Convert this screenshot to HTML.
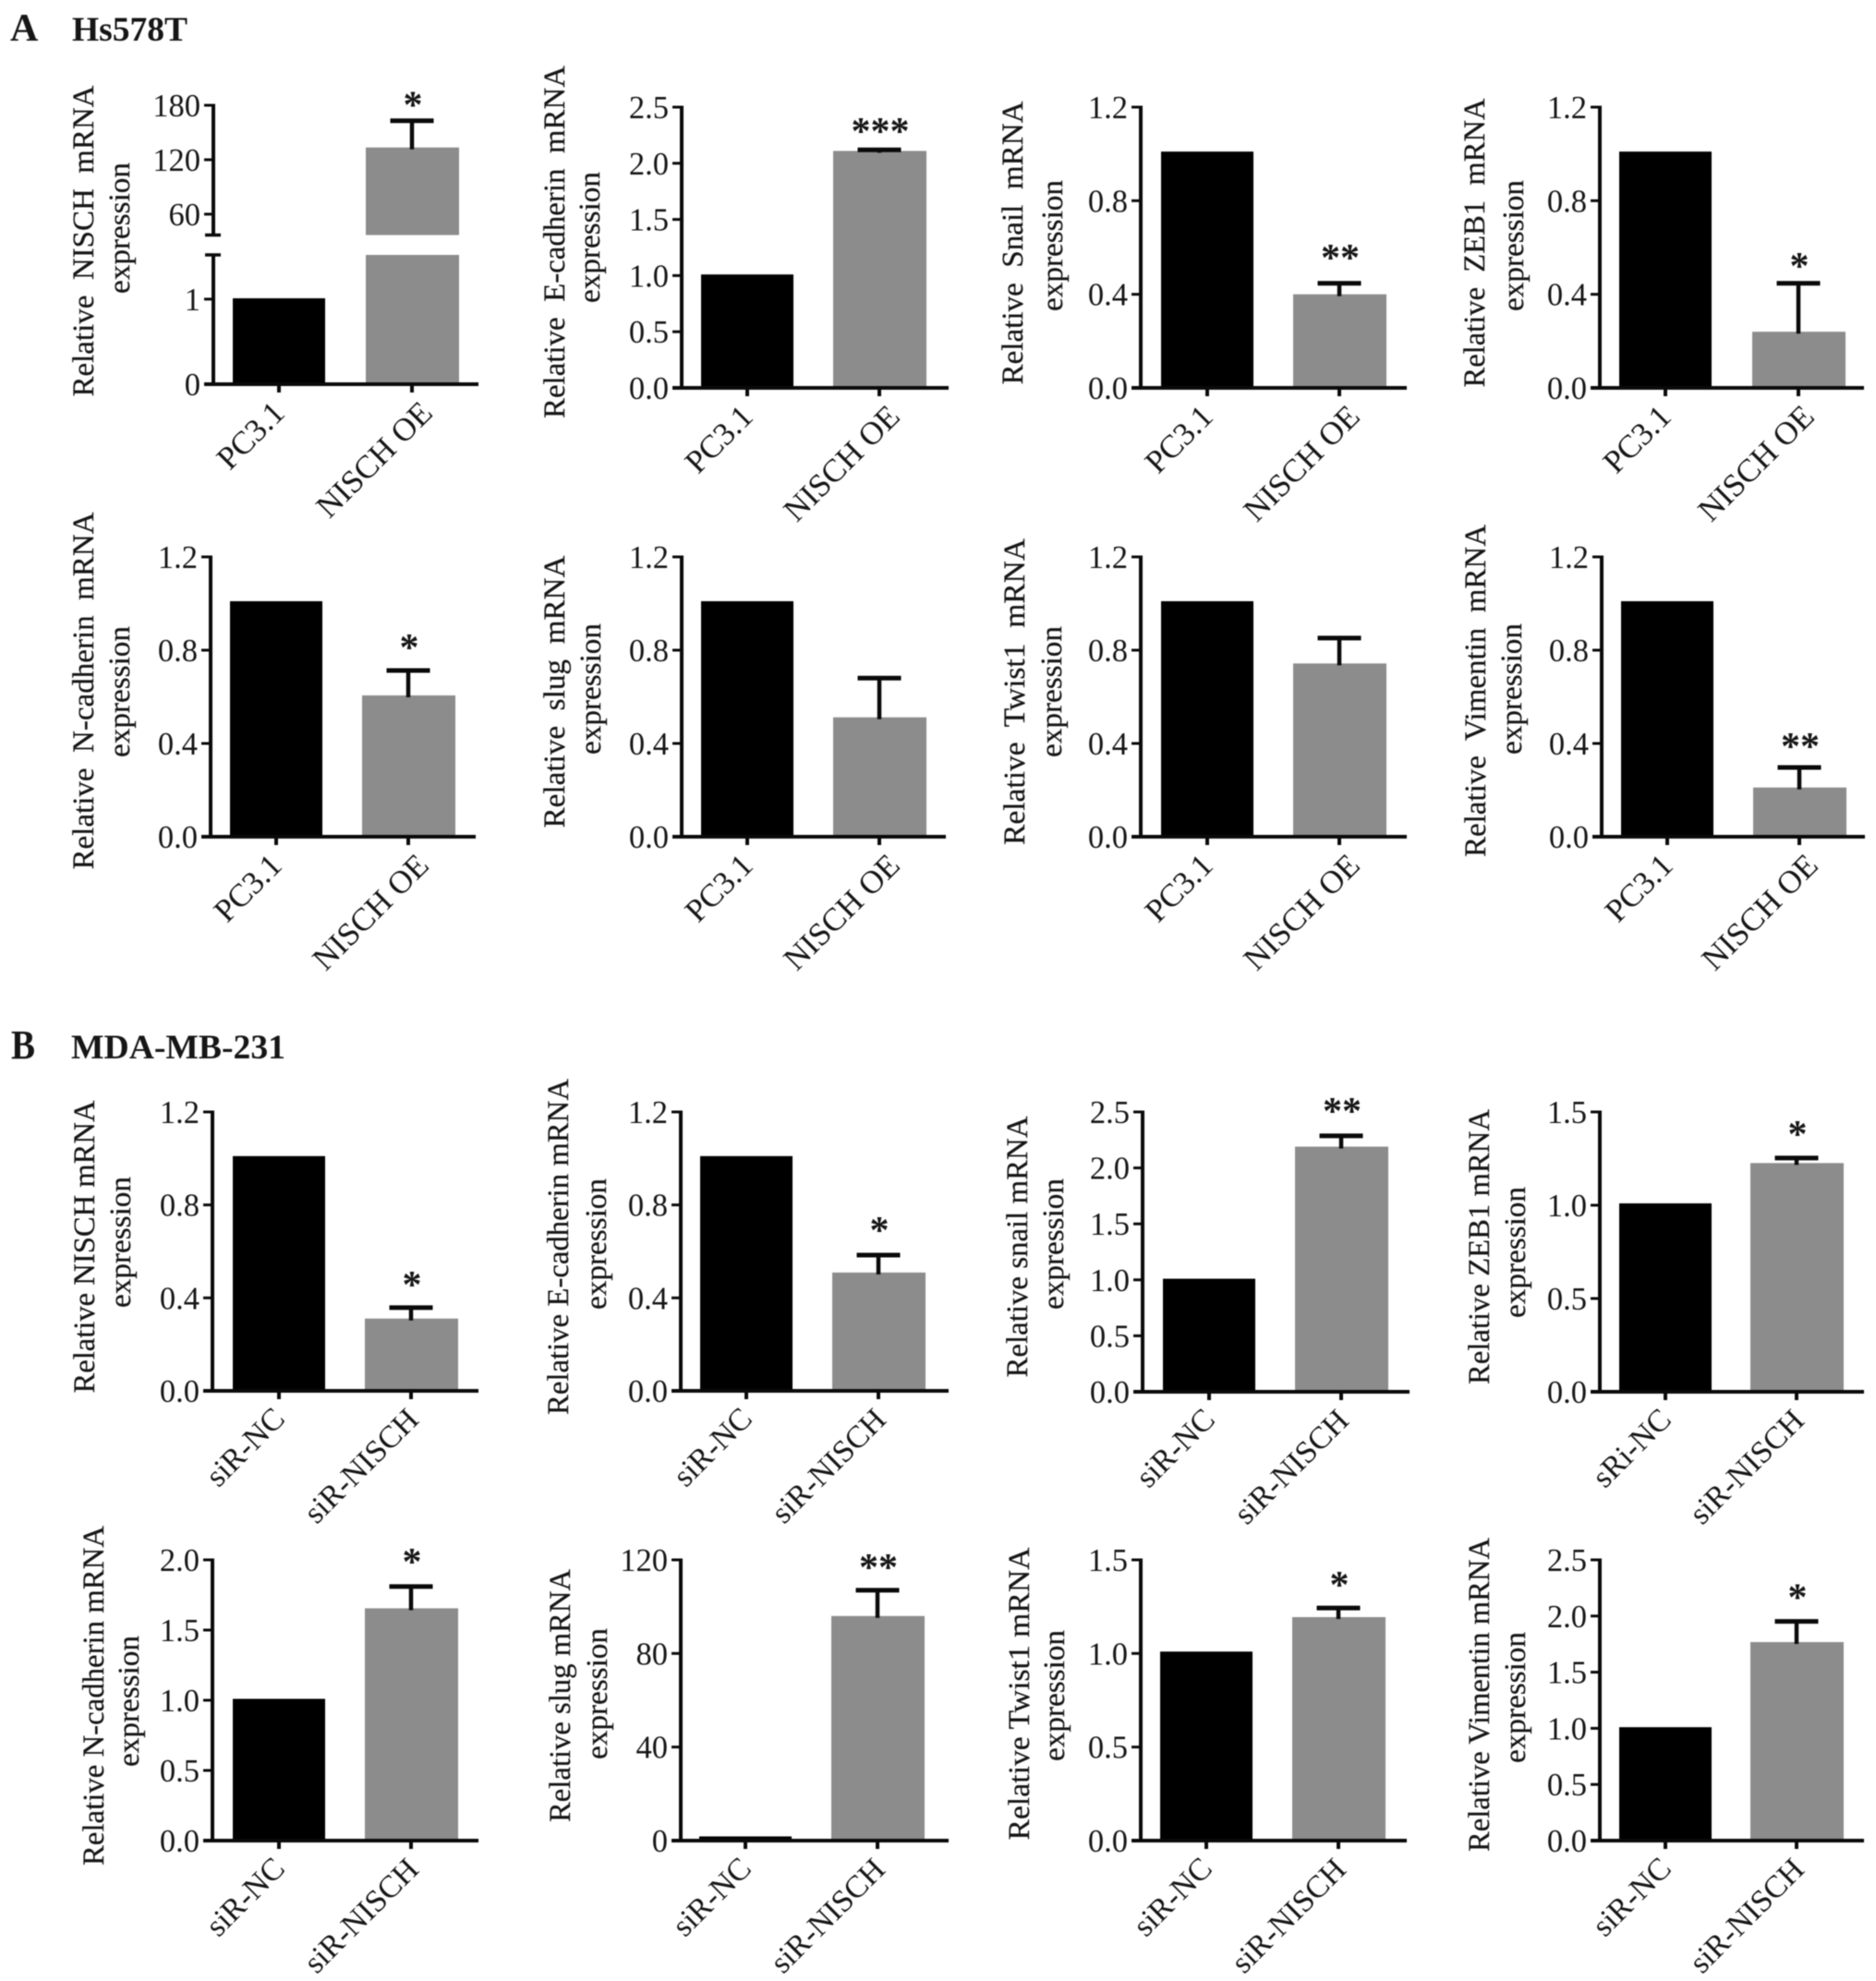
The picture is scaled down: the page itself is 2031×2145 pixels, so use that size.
<!DOCTYPE html>
<html lang="en">
<head>
<meta charset="utf-8">
<title>NISCH mRNA expression panels</title>
<style>
html,body{margin:0;padding:0;background:#fff;}
#figure{display:block;width:2031px;height:2145px;filter:blur(0.5px);}
text{font-family:"Liberation Serif",serif;fill:#161616;white-space:pre;}
.tick-label{font-size:34.5px;}
.axis-label{font-size:33px;stroke:#161616;stroke-width:0.25px;}
.cat-label{font-size:35px;}
.cat-label-b{font-size:34px;}
.heading{font-size:37.5px;font-weight:bold;}
.star{font-size:42px;font-weight:bold;}
</style>
</head>
<body>
<svg id="figure" xmlns="http://www.w3.org/2000/svg" width="2031" height="2145" viewBox="0 0 2031 2145">
  <rect x="0" y="0" width="2031" height="2145" fill="#ffffff"/>
  <text class="heading" x="11" y="44" style="font-size:42px">A</text>
  <text class="heading" x="78" y="44">Hs578T</text>
  <text class="heading" x="12" y="1146" style="font-size:44px" textLength="26" lengthAdjust="spacingAndGlyphs">B</text>
  <text class="heading" x="77" y="1146" textLength="232" lengthAdjust="spacingAndGlyphs">MDA-MB-231</text>
</svg>
<script>
// ---- chart data ----
const geneNames = ['nisch','e-cadherin','snail','zeb1','n-cadherin','slug','twist1','vimentin',
                   'nisch','e-cadherin','snail','zeb1','n-cadherin','slug','twist1','vimentin'];
const yTitles = ['Relative  NISCH  mRNA','Relative  E-cadherin  mRNA','Relative  Snail  mRNA','Relative  ZEB1  mRNA',
                 'Relative  N-cadherin  mRNA','Relative  slug  mRNA','Relative  Twist1  mRNA','Relative  Vimentin  mRNA',
                 'Relative NISCH mRNA','Relative E-cadherin mRNA','Relative snail mRNA','Relative ZEB1 mRNA',
                 'Relative N-cadherin mRNA','Relative slug mRNA','Relative Twist1 mRNA','Relative Vimentin mRNA'];
const yTitleSecond = 'expression';
const controlLabels = ['PC3.1','PC3.1','PC3.1','PC3.1','PC3.1','PC3.1','PC3.1','PC3.1',
                       'siR-NC','siR-NC','siR-NC','sRi-NC','siR-NC','siR-NC','siR-NC','siR-NC'];
const treatedLabels = ['NISCH OE','NISCH OE','NISCH OE','NISCH OE','NISCH OE','NISCH OE','NISCH OE','NISCH OE',
                       'siR-NISCH','siR-NISCH','siR-NISCH','siR-NISCH','siR-NISCH','siR-NISCH','siR-NISCH','siR-NISCH'];
const controlValues = [1.01,1.01,1.01,1.01,1.01,1.01,1.01,1.01,1.01,1.01,1.01,1.01,1.01,1.8,1.01,1.01];
const treatedValues = [133.5,2.11,0.40,0.24,0.606,0.512,0.743,0.211,0.311,0.509,2.19,1.226,1.655,96,1.194,1.768];
const errorValues = [29.5,0.01,0.047,0.207,0.107,0.168,0.109,0.086,0.047,0.075,0.096,0.027,0.155,11,0.049,0.184];
const significance = ['*','***','**','*','*','','','**','*','*','**','*','*','**','*','*'];
const tickLabels = [
  ['0','1','60','120','180'],
  ['0.0','0.5','1.0','1.5','2.0','2.5'],
  ['0.0','0.4','0.8','1.2'],
  ['0.0','0.4','0.8','1.2'],
  ['0.0','0.4','0.8','1.2'],
  ['0.0','0.4','0.8','1.2'],
  ['0.0','0.4','0.8','1.2'],
  ['0.0','0.4','0.8','1.2'],
  ['0.0','0.4','0.8','1.2'],
  ['0.0','0.4','0.8','1.2'],
  ['0.0','0.5','1.0','1.5','2.0','2.5'],
  ['0.0','0.5','1.0','1.5'],
  ['0.0','0.5','1.0','1.5','2.0'],
  ['0','40','80','120'],
  ['0.0','0.5','1.0','1.5'],
  ['0.0','0.5','1.0','1.5','2.0','2.5']
];
// broken y axis of the first panel: lower part 0..1.52, upper part 37..180
const brokenLowerMax = 1.52;
const brokenUpperMin = 37;

// ---- panel layout (pixel frames, not data) ----
const frames = [
 {x:231,end:518,t0:302,t1:446,top:114,base:416,lx:90,ly:261,ll:337,ex:134,ey:247,starGap:23,breakHi:254.5,breakLo:276},
 {x:738,end:1027,t0:809,t1:952,top:116,base:420,lx:600,ly:262,ll:382,ex:643,ey:257,starGap:26},
 {x:1235,end:1523,t0:1307,t1:1450,top:116,base:420,lx:1096,ly:263,ll:307,ex:1144,ey:266,starGap:34},
 {x:1732,end:2018,t0:1803,t1:1947,top:116,base:420,lx:1596,ly:263,ll:313,ex:1643,ey:266,starGap:25,catDx:-5},
 {x:228,end:515,t0:299,t1:442,top:603,base:906,lx:90,ly:748,ll:387,ex:134,ey:749,starGap:31},
 {x:738,end:1024,t0:809,t1:952,top:603,base:906,lx:600,ly:749,ll:295,ex:644,ey:746,starGap:31},
 {x:1235,end:1523,t0:1307,t1:1450,top:603,base:906,lx:1098,ly:749,ll:332,ex:1143,ey:749,starGap:31},
 {x:1734,end:2019,t0:1805,t1:1948,top:603,base:906,lx:1597,ly:748,ll:360,ex:1641,ey:746,starGap:29,catDx:-2},
 {x:230,end:518,t0:302,t1:445,top:1204,base:1506,lx:91,ly:1350,ll:317,ex:135,ey:1345,starGap:31},
 {x:737,end:1027,t0:808,t1:951,top:1204,base:1506,lx:604,ly:1350,ll:364,ex:650,ey:1347,starGap:33},
 {x:1237,end:1526,t0:1309,t1:1452,top:1204,base:1507,lx:1101,ly:1350,ll:283,ex:1145,ey:1347,starGap:33},
 {x:1732,end:2018,t0:1803,t1:1945,top:1204,base:1507,lx:1601,ly:1350,ll:298,ex:1645,ey:1356,starGap:32},
 {x:230,end:518,t0:302,t1:445,top:1689,base:1993,lx:101,ly:1836,ll:368,ex:144,ey:1842,starGap:33},
 {x:737,end:1027,t0:807,t1:950,top:1689,base:1993,lx:606,ly:1836,ll:274,ex:651,ey:1834,starGap:31},
 {x:1235,end:1523,t0:1306,t1:1449,top:1689,base:1993,lx:1103,ly:1834,ll:317,ex:1146,ey:1836,starGap:31},
 {x:1732,end:2018,t0:1803,t1:1945,top:1689,base:1993,lx:1601,ly:1835,ll:340,ex:1645,ey:1838,starGap:32}
];

const svgNS = 'http://www.w3.org/2000/svg';
const root = document.getElementById('figure');

function add(parent, tag, attrs, name, text) {
  const el = document.createElementNS(svgNS, tag);
  Object.keys(attrs).forEach(function (k) { el.setAttribute(k, attrs[k]); });
  
  
  if (text !== undefined) el.textContent = text;
  parent.appendChild(el);
  return el;
}

// y axis function of a panel; the first panel has a broken scale
function yScaleFor(i) {
  const f = frames[i];
  const labels = tickLabels[i].map(Number);
  const max = labels[labels.length - 1];
  if (f.breakHi !== undefined) {
    return function (v) {
      if (v <= brokenLowerMax) return f.base - (v / brokenLowerMax) * (f.base - f.breakLo);
      return f.breakHi - ((v - brokenUpperMin) / (max - brokenUpperMin)) * (f.breakHi - f.top);
    };
  }
  return function (v) { return f.base - (v / max) * (f.base - f.top); };
}

function line(g, x1, y1, x2, y2, w, name, color) {
  return add(g, 'line', {x1: x1, y1: y1, x2: x2, y2: y2, stroke: color || '#0a0a0a', 'stroke-width': w}, name);
}

const BAR_W = 100;
const CAP_W = 47;

frames.forEach(function (f, i) {
  const section = i < 8 ? 'a' : 'b';
  const g = add(root, 'g', {}, 'chart-' + section + '-' + geneNames[i]);
  const y = yScaleFor(i);
  const isB = i >= 8;

  // bars
  const cBase = f.base;
  const cTop = y(controlValues[i]);
  add(g, 'rect', {x: f.t0 - BAR_W / 2, y: cTop, width: BAR_W, height: cBase - cTop, fill: '#000000'}, 'bar-control');
  const tTop = y(treatedValues[i]);
  if (f.breakHi !== undefined) {
    add(g, 'rect', {x: f.t1 - BAR_W / 2, y: f.breakLo, width: BAR_W + 1, height: f.base - f.breakLo, fill: '#8c8c8c'}, 'bar-treated-lower');
    add(g, 'rect', {x: f.t1 - BAR_W / 2, y: tTop, width: BAR_W + 1, height: f.breakHi - tTop, fill: '#8c8c8c'}, 'bar-treated-upper');
  } else {
    add(g, 'rect', {x: f.t1 - BAR_W / 2, y: tTop, width: BAR_W + 1, height: f.base - tTop, fill: '#8c8c8c'}, 'bar-treated');
  }

  // error bar
  const errTop = y(treatedValues[i] + errorValues[i]);
  line(g, f.t1, errTop, f.t1, tTop + 2, 4.5, 'error-bar-stem');
  line(g, f.t1 - CAP_W / 2, errTop, f.t1 + CAP_W / 2, errTop, 5, 'error-bar-cap');

  // y axis
  if (f.breakHi !== undefined) {
    line(g, f.x, f.top - 1.5, f.x, f.breakHi, 4, 'y-axis-upper');
    line(g, f.x, f.breakLo, f.x, f.base, 4, 'y-axis-lower');
    line(g, f.x - 9, f.breakHi, f.x + 8, f.breakHi, 3.5, 'y-axis-break-top');
    line(g, f.x - 9, f.breakLo, f.x + 8, f.breakLo, 3.5, 'y-axis-break-bottom');
  } else {
    line(g, f.x, f.top - 1.5, f.x, f.base, 4, 'y-axis');
  }
  tickLabels[i].forEach(function (lab) {
    const ty = y(Number(lab));
    line(g, f.x - 10, ty, f.x, ty, 3, 'y-tick');
    add(g, 'text', {class: 'tick-label', x: f.x - 14, y: ty + 12, 'text-anchor': 'end'}, 'y-tick-label', lab);
  });

  // x axis
  line(g, f.x - 10, f.base, f.end, f.base, 4, 'x-axis');
  line(g, f.t0, f.base, f.t0, f.base + 9, 4, 'x-tick');
  line(g, f.t1, f.base, f.t1, f.base + 9, 4, 'x-tick');

  // category labels
  const catClass = isB ? 'cat-label-b' : 'cat-label';
  const dx = f.catDx || 0;
  const c0x = f.t0 + 8, c0y = f.base + (isB ? 32 : 33);
  const c1x = f.t1 + (isB ? 10 : 24) + dx, c1y = f.base + 33;
  add(g, 'text', {class: catClass, x: c0x, y: c0y, 'text-anchor': 'end', transform: 'rotate(-45 ' + c0x + ' ' + c0y + ')'}, 'x-category-label', controlLabels[i]);
  add(g, 'text', {class: catClass, x: c1x, y: c1y, 'text-anchor': 'end', transform: 'rotate(-45 ' + c1x + ' ' + c1y + ')'}, 'x-category-label', treatedLabels[i]);

  // y axis titles
  const bx = f.lx + 11, ex = f.ex + 6;
  add(g, 'text', {class: 'axis-label', x: bx, y: f.ly, 'text-anchor': 'middle', textLength: f.ll, lengthAdjust: 'spacingAndGlyphs',
                  transform: 'rotate(-90 ' + bx + ' ' + f.ly + ')'}, 'y-axis-title', yTitles[i]);
  add(g, 'text', {class: 'axis-label', x: ex, y: f.ey, 'text-anchor': 'middle', textLength: 142, lengthAdjust: 'spacingAndGlyphs',
                  transform: 'rotate(-90 ' + ex + ' ' + f.ey + ')'}, 'y-axis-title-second-line', yTitleSecond);

  // significance stars
  if (significance[i]) {
    add(g, 'text', {class: 'star', x: f.t1 + 1, y: errTop - f.starGap + 20, 'text-anchor': 'middle'}, 'significance-marker', significance[i]);
  }
});
</script>
</body>
</html>
